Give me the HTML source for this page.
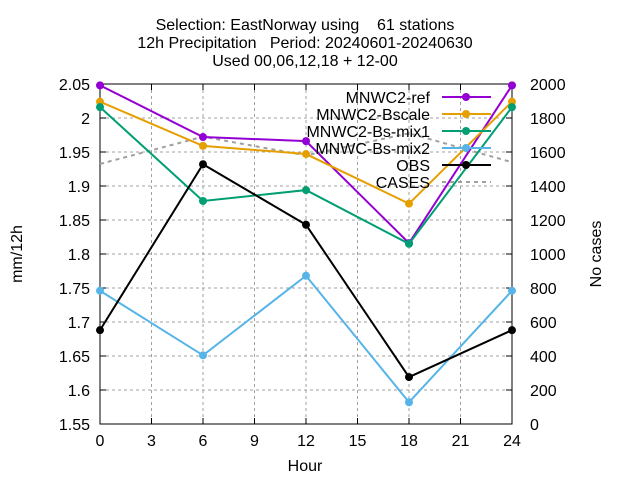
<!DOCTYPE html>
<html><head><meta charset="utf-8"><style>body{margin:0;background:#fff}svg{font-family:"Liberation Sans",sans-serif}</style></head>
<body>
<svg id="c" width="640" height="480" xmlns="http://www.w3.org/2000/svg">
<g font-size="16" text-anchor="middle">
<text x="305" y="30" xml:space="preserve">Selection: EastNorway using    61 stations</text>
<text x="305" y="48" xml:space="preserve">12h Precipitation   Period: 20240601-20240630</text>
<text x="305" y="66">Used 00,06,12,18 + 12-00</text>
</g>
<g id="grid"></g>
<g id="axes"></g>
<g id="series"></g>
<g id="legend"></g>
<text x="305" y="471" font-size="16" text-anchor="middle">Hour</text>
<text transform="translate(22,254) rotate(-90)" font-size="16" text-anchor="middle">mm/12h</text>
<text transform="translate(601,254) rotate(-90)" font-size="16" text-anchor="middle">No cases</text>
</svg>
<script>
const hours=[0,6,12,18,24];
const ref=[2.048,1.972,1.966,1.816,2.048];
const bscale=[2.024,1.959,1.947,1.874,2.024];
const mix1=[2.016,1.878,1.894,1.815,2.016];
const mix2=[1.746,1.651,1.768,1.582,1.746];
const obs=[1.688,1.932,1.843,1.619,1.688];
const cases=[1530,1690,1580,1710,1540];
const xTicks=[0,3,6,9,12,15,18,21,24];
const yTicks=[1.55,1.6,1.65,1.7,1.75,1.8,1.85,1.9,1.95,2,2.05];
const y2Ticks=[0,200,400,600,800,1000,1200,1400,1600,1800,2000];
const NS="http://www.w3.org/2000/svg";
const L=100,R=512,T=84,B=424;
const X=v=>L+(v-0)/24*(R-L);
const Y=v=>B-(v-1.55)/0.5*(B-T);
const Y2=v=>B-v/2000*(B-T);
function mk(p,t,a){const e=document.createElementNS(NS,t);for(const k in a)e.setAttribute(k,a[k]);p.appendChild(e);return e;}
const g=document.getElementById('grid'),ax=document.getElementById('axes'),s=document.getElementById('series'),lg=document.getElementById('legend');
xTicks.forEach(t=>{const x=X(t);
 if(t>0&&t<24){const l=mk(g,'line',{x1:x,x2:x,y1:T,y2:B,stroke:'#a0a0a0','stroke-dasharray':'3,3'});}
 mk(ax,'line',{x1:x,x2:x,y1:B,y2:B-6,stroke:'#000'});mk(ax,'line',{x1:x,x2:x,y1:T,y2:T+6,stroke:'#000'});
 const tx=mk(ax,'text',{x:x,y:B+22,'font-size':16,'text-anchor':'middle'});tx.textContent=t;
 });
yTicks.forEach(t=>{const y=Y(t);
 if(t>1.55&&t<2.05){const l=mk(g,'line',{x1:L,x2:R,y1:y,y2:y,stroke:'#a0a0a0','stroke-dasharray':'3,3'});}
 mk(ax,'line',{x1:L,x2:L+6,y1:y,y2:y,stroke:'#000'});
 const tx=mk(ax,'text',{x:L-10,y:y+6,'font-size':16,'text-anchor':'end'});tx.textContent=String(t);
 });
y2Ticks.forEach(t=>{const y=Y2(t);
 mk(ax,'line',{x1:R,x2:R-6,y1:y,y2:y,stroke:'#000'});
 const tx=mk(ax,'text',{x:R+18,y:y+6,'font-size':16,'text-anchor':'start'});tx.textContent=t;
 });
mk(ax,'rect',{x:L,y:T,width:R-L,height:B-T,fill:'none',stroke:'#000'});
function line(vals,yf,color,name,dash){
 const pts=vals.map((v,i)=>X(hours[i])+','+yf(v)).join(' ');
 const a={points:pts,fill:'none',stroke:color,'stroke-width':dash?2:2};if(dash)a['stroke-dasharray']='4,4';
 const p=mk(s,'polyline',a);
 if(!dash)vals.forEach((v,i)=>{const c=mk(s,'circle',{cx:X(hours[i]),cy:yf(v),r:4,fill:color});});
}
const series=[[cases,Y2,'#a0a0a0','CASES',true],[ref,Y,'#9400d3','MNWC2-ref'],[bscale,Y,'#e69f00','MNWC2-Bscale'],[mix1,Y,'#009e73','MNWC2-Bs-mix1'],[mix2,Y,'#56b4e9','MNWC-Bs-mix2'],[obs,Y,'#000000','OBS']];
series.forEach(d=>line(d[0],d[1],d[2],d[3].toLowerCase(),d[4]));
const leg=[['MNWC2-ref','#9400d3'],['MNWC2-Bscale','#e69f00'],['MNWC2-Bs-mix1','#009e73'],['MNWC-Bs-mix2','#56b4e9'],['OBS','#000'],['CASES','#a0a0a0',1]];
leg.forEach((d,i)=>{const y=97+i*17;
 const e=mk(lg,'g',{});
 const t=mk(e,'text',{x:430,y:y+6,'font-size':16,'text-anchor':'end'});t.textContent=d[0];
 const a={x1:442,x2:491,y1:y,y2:y,stroke:d[1],'stroke-width':2};if(d[2])a['stroke-dasharray']='4,4';mk(e,'line',a);
 if(!d[2])mk(e,'circle',{cx:466,cy:y,r:4,fill:d[1]});});
</script>
</body></html>
